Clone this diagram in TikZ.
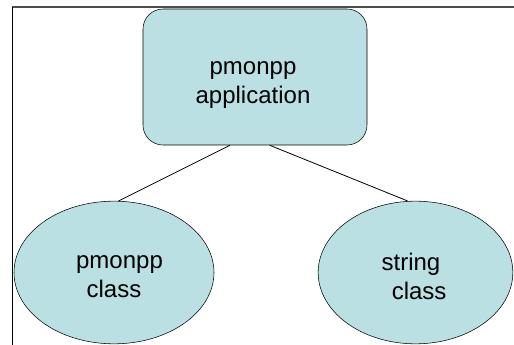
\documentclass[tikz,border=0pt]{standalone}
\usepackage{fontspec}
\setmainfont{Liberation Sans}
\usetikzlibrary{shapes.geometric}
\definecolor{boxfill}{RGB}{186,224,227}
\begin{document}
\begin{tikzpicture}[x=0.75pt, y=-0.75pt,
    appbox/.style={draw, fill=boxfill, rounded corners=15pt,
                   minimum width=168pt, minimum height=102pt},
    classbox/.style={draw, fill=boxfill, ellipse, minimum height=107pt},
    label/.style={align=center, inner sep=0pt, font=\fontsize{18}{22}\selectfont}]
      \useasboundingbox (0, 0) rectangle (514, 345);
      % page frame
      \draw [line width=1.5pt, black!70] (12, 7) -- (514, 7);
      \draw [line width=0.75pt] (12.5, 7) -- (12.5, 345);
      \node (app) [appbox] at (255, 77) {};
      \node (pclass) [classbox, minimum width=150pt] at (114, 272.5) {};
      \node (sclass) [classbox, minimum width=146pt] at (415.5, 272.5) {};
      \node (applbl) [label] at ([xshift=-1.5pt, yshift=-6pt]app.center) {pmonpp\\application};
      \node (plbl) [label] at ([yshift=-3pt]pclass.center) {\hspace*{0.46em}pmonpp\\class};
      \node (slbl) [label] at ([yshift=-3pt]sclass.center) {string\hspace*{0.38em}\\\hspace*{0.3em}class};
      \draw [line width=0.6pt] ([xshift=-18.75pt]app.south) -- ([xshift=3.5pt]pclass.north)
                               ([xshift=11pt]app.south) -- ([xshift=-6pt]sclass.north);
\end{tikzpicture}
\end{document}
